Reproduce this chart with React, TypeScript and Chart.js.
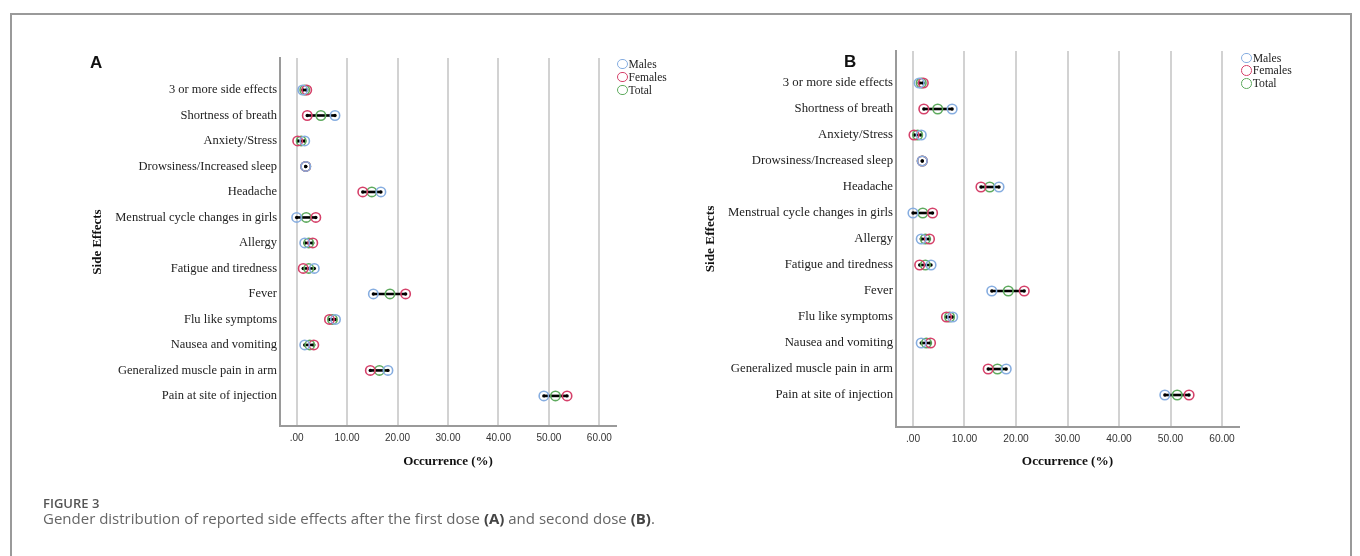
import React, { useEffect, useRef } from "react";
import { Chart, registerables } from "chart.js";
Chart.register(...registerables);

const categories = [
  "3 or more side effects",
  "Shortness of breath",
  "Anxiety/Stress",
  "Drowsiness/Increased sleep",
  "Headache",
  "Menstrual cycle changes in girls",
  "Allergy",
  "Fatigue and tiredness",
  "Fever",
  "Flu like symptoms",
  "Nausea and vomiting",
  "Generalized muscle pain in arm",
  "Pain at site of injection",
];

// Panel A (first dose), occurrence %
const malesA = [1.2, 7.6, 1.6, 1.8, 16.7, 0.0, 1.6, 3.5, 15.2, 7.7, 1.6, 18.1, 49.0];
const femalesA = [2.0, 2.1, 0.2, 1.8, 13.1, 3.8, 3.2, 1.3, 21.6, 6.5, 3.4, 14.6, 53.6];
const totalA = [1.6, 4.8, 0.9, 1.8, 14.9, 1.9, 2.4, 2.4, 18.5, 7.1, 2.6, 16.4, 51.3];

// Panel B (second dose), occurrence %
const malesB = [1.2, 7.6, 1.6, 1.8, 16.7, 0.0, 1.6, 3.5, 15.3, 7.7, 1.6, 18.1, 48.9];
const femalesB = [2.0, 2.1, 0.2, 1.8, 13.2, 3.8, 3.2, 1.3, 21.6, 6.5, 3.4, 14.6, 53.6];
const totalB = [1.6, 4.8, 0.9, 1.8, 14.9, 1.9, 2.4, 2.4, 18.5, 7.1, 2.6, 16.4, 51.3];

const tickValues = [0, 10, 20, 30, 40, 50, 60];
const tickLabels = [".00", "10.00", "20.00", "30.00", "40.00", "50.00", "60.00"];

const seriesNames = ["Males", "Females", "Total"];
const seriesColors = ["#86ade0", "#d5416a", "#5eaa5e"];

type PanelProps = {
  left: number;
  width: number;
  padding: { left: number; right: number; top: number; bottom: number };
  yAxisWidth: number;
  yMin: number;
  yMax: number;
  xMin: number;
  xMax: number;
  fontScale: number;
  males: number[];
  females: number[];
  total: number[];
};

function DotPanel(p: PanelProps) {
  const ref = useRef<HTMLCanvasElement | null>(null);
  useEffect(() => {
    if (!ref.current) return;
    const series = [p.males, p.females, p.total];
    const pointSets = series.map((vals, s) => ({
      label: seriesNames[s],
      data: vals.map((v, i) => ({ x: v, y: i })),
      pointStyle: "circle",
      pointRadius: 4.7 * p.fontScale,
      pointBorderWidth: 1.6,
      borderColor: seriesColors[s],
      pointBorderColor: seriesColors[s],
      backgroundColor: "rgba(0,0,0,0)",
      pointBackgroundColor: "rgba(0,0,0,0)",
      showLine: false,
    }));
    const lineSets = categories.map((_, i) => {
      const vals = series.map((arr) => arr[i]);
      const lo = Math.min(...vals);
      const hi = Math.max(...vals);
      return {
        label: "range" + i,
        data: [
          { x: lo, y: i },
          { x: hi, y: i },
        ],
        showLine: true,
        borderColor: "#000",
        borderWidth: 2.6,
        pointRadius: 1.7,
        pointBorderWidth: 0,
        pointBackgroundColor: "#000",
        backgroundColor: "#000",
      };
    });
    const fs = p.fontScale;
    const chart = new Chart(ref.current, {
      type: "scatter",
      data: { datasets: [...pointSets, ...lineSets] as any },
      options: {
        animation: false,
        responsive: false,
        maintainAspectRatio: false,
        layout: { padding: p.padding },
        plugins: { legend: { display: false }, tooltip: { enabled: false } },
        scales: {
          x: {
            type: "linear",
            min: p.xMin,
            max: p.xMax,
            afterBuildTicks: (axis: any) => {
              axis.ticks = tickValues.map((v) => ({ value: v }));
            },
            afterFit: (scale: any) => {
              scale.height = 50;
            },
            ticks: {
              callback: (v: any) => {
                const k = tickValues.indexOf(Number(v));
                return k >= 0 ? tickLabels[k] : "";
              },
              font: { family: "Liberation Sans", size: 10 * fs },
              color: "#333",
              padding: 6,
              maxRotation: 0,
            },
            grid: { color: "#d2d2d2", lineWidth: 2, drawTicks: false },
            border: { display: true, color: "#9a9a9a", width: 2 },
            title: {
              display: true,
              text: "Occurrence (%)",
              font: { family: "Liberation Serif", size: 13 * fs, weight: "bold" },
              color: "#111",
              padding: { top: 0, bottom: 7 },
            },
          },
          y: {
            type: "linear",
            reverse: true,
            min: p.yMin,
            max: p.yMax,
            afterBuildTicks: (axis: any) => {
              axis.ticks = categories.map((_, i) => ({ value: i }));
            },
            afterFit: (scale: any) => {
              scale.width = p.yAxisWidth;
            },
            ticks: {
              autoSkip: false,
              callback: (v: any) => categories[Math.round(Number(v))] ?? "",
              font: { family: "Liberation Serif", size: 12.5 * fs },
              color: "#222",
              padding: 3,
            },
            grid: { color: "rgba(0,0,0,0)", drawTicks: false },
            border: { display: true, color: "#9a9a9a", width: 2 },
            title: {
              display: true,
              text: "Side Effects",
              font: { family: "Liberation Serif", size: 13 * fs, weight: "bold" },
              color: "#111",
              padding: { top: 4, bottom: 0 },
            },
          },
        },
      },
    });
    return () => chart.destroy();
  }, []);
  return (
    <canvas
      ref={ref}
      width={p.width}
      height={556}
      style={{ position: "absolute", left: p.left, top: 0, width: p.width, height: 556 }}
    />
  );
}

function Legend({ x, y, step, scale }: { x: number; y: number; step: number; scale: number }) {
  return (
    <>
      {seriesNames.map((n, i) => (
        <div
          key={n}
          style={{
            position: "absolute",
            left: x - 5,
            top: y + i * step - 7,
            height: 14,
            display: "flex",
            alignItems: "center",
            fontFamily: "Liberation Serif",
            fontSize: 11.5 * scale,
            color: "#222",
            whiteSpace: "nowrap",
          }}
        >
          <span
            style={{
              display: "inline-block",
              width: 10.5 * scale,
              height: 10.5 * scale,
              boxSizing: "border-box",
              border: `1.6px solid ${seriesColors[i]}`,
              borderRadius: "50%",
              marginRight: 1,
            }}
          />
          {n}
        </div>
      ))}
    </>
  );
}

export default function App() {
  return (
    <div
      style={{
        position: "absolute",
        left: 0,
        top: 0,
        width: 1360,
        height: 556,
        overflow: "hidden",
        background: "#fff",
      }}
    >
      <div
        style={{
          position: "absolute",
          left: 10,
          top: 13,
          width: 1338,
          height: 600,
          border: "2px solid #9a9a9a",
          borderBottom: "none",
        }}
      />
      <DotPanel
        left={0}
        width={680}
        padding={{ left: 86, right: 64, top: 58, bottom: 80 }}
        yAxisWidth={194}
        yMin={-1.255}
        yMax={13.18}
        xMin={-3.3}
        xMax={63.3}
        fontScale={1}
        males={malesA}
        females={femalesA}
        total={totalA}
      />
      <DotPanel
        left={680}
        width={680}
        padding={{ left: 19, right: 121, top: 51, bottom: 79 }}
        yAxisWidth={197}
        yMin={-1.23}
        yMax={13.23}
        xMin={-3.3}
        xMax={63.3}
        fontScale={1.02}
        males={malesB}
        females={femalesB}
        total={totalB}
      />
      <Legend x={622} y={64} step={13} scale={1} />
      <Legend x={1246} y={58} step={12.6} scale={1.02} />
      <div
        style={{
          position: "absolute",
          left: 90,
          top: 53,
          fontFamily: "Liberation Sans",
          fontWeight: "bold",
          fontSize: 17,
          color: "#111",
        }}
      >
        A
      </div>
      <div
        style={{
          position: "absolute",
          left: 844,
          top: 52,
          fontFamily: "Liberation Sans",
          fontWeight: "bold",
          fontSize: 17,
          color: "#111",
        }}
      >
        B
      </div>
      <div
        style={{
          position: "absolute",
          left: 43,
          top: 494,
          fontFamily: "Open Sans",
          fontWeight: 600,
          fontSize: 13,
          color: "#555",
        }}
      >
        FIGURE 3
      </div>
      <div
        style={{
          position: "absolute",
          left: 43,
          top: 508,
          fontFamily: "Open Sans",
          fontSize: 15,
          color: "#666",
          whiteSpace: "nowrap",
        }}
      >
        Gender distribution of reported side effects after the first dose <b style={{ color: "#444" }}>(A)</b> and second dose{" "}
        <b style={{ color: "#444" }}>(B)</b>.
      </div>
    </div>
  );
}
